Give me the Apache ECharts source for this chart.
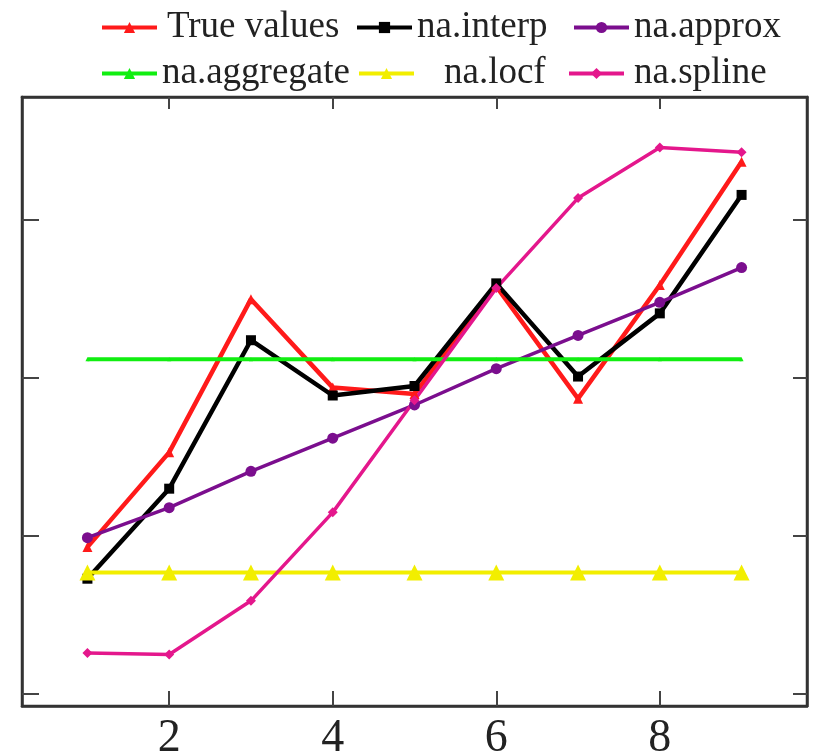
<!DOCTYPE html>
<html>
<head>
<meta charset="utf-8">
<script src="https://cdn.jsdelivr.net/npm/echarts@6/dist/echarts.min.js"></script>
<style>html,body{margin:0;padding:0;background:#fff;}#c{width:817px;height:755px;}</style>
</head>
<body>
<div id="c"></div>
<script>
const xValues = [1, 2, 3, 4, 5, 6, 7, 8, 9];
const trueValues = [0.93, 1.53, 2.50, 1.94, 1.90, 2.58, 1.87, 2.59, 3.37];
const naInterp   = [0.73, 1.30, 2.24, 1.89, 1.95, 2.60, 2.01, 2.41, 3.16];
const naApprox   = [0.99, 1.18, 1.41, 1.62, 1.83, 2.06, 2.27, 2.48, 2.70];
const naAggregate= [2.12, 2.12, 2.12, 2.12, 2.12, 2.12, 2.12, 2.12, 2.12];
const naLocf     = [0.77, 0.77, 0.77, 0.77, 0.77, 0.77, 0.77, 0.77, 0.77];
const naSpline   = [0.26, 0.25, 0.59, 1.15, 1.86, 2.57, 3.14, 3.46, 3.43];
const xTicks = [2, 4, 6, 8];
const yTicks = [0, 1, 2, 3];

const FONT = 'Liberation Serif';
const pairs = arr => xValues.map((x, i) => [x, arr[i]]);

const seriesDefs = [
  {name: 'True values', data: trueValues, color: '#ff1a1a', symbol: 'triangle', size: 10, width: 4.5},
  {name: 'na.interp', data: naInterp, color: '#000000', symbol: 'rect', size: 10, width: 4.5},
  {name: 'na.approx', data: naApprox, color: '#7b0e8e', symbol: 'circle', size: 11, width: 3.5},
  {name: 'na.aggregate', data: naAggregate, color: '#11ee11', symbol: 'triangle', size: 4, width: 4},
  {name: 'na.locf', data: naLocf, color: '#f2ee00', symbol: 'triangle', size: 16, width: 4},
  {name: 'na.spline', data: naSpline, color: '#e4178c', symbol: 'diamond', size: 10, width: 3.5}
];

const legendPos = [
  {name: 'True values', left: 95, top: 4, pad: 5},
  {name: 'na.interp', left: 350, top: 4, pad: 0},
  {name: 'na.approx', left: 567, top: 4, pad: 0},
  {name: 'na.aggregate', left: 95, top: 50, pad: 0},
  {name: 'na.locf', left: 352, top: 50, pad: 25},
  {name: 'na.spline', left: 562, top: 50, pad: 5}
];

const chart = echarts.init(document.getElementById('c'), null, {renderer: 'canvas'});
const axisLineStyle = {color: '#333', width: 2.5};
const tickStyle = {color: '#444', width: 2};

chart.setOption({
  animation: false,
  backgroundColor: '#ffffff',
  grid: {left: 22, right: 10, top: 97, bottom: 49, show: true, borderColor: '#333', borderWidth: 2.5,
         containLabel: false, outerBoundsMode: 'none'},
  legend: legendPos.map(l => ({
    data: [l.name], left: l.left, top: l.top, itemWidth: 55, itemHeight: 14,
    selectedMode: false,
    lineStyle: {width: 4},
    textStyle: {fontFamily: FONT, fontSize: 37, color: '#222', padding: [0, 0, 0, l.pad]}
  })),
  xAxis: [
    {type: 'value', min: 0.2, max: 9.8, position: 'bottom',
     axisLine: {show: true, onZero: false, lineStyle: axisLineStyle},
     axisTick: {show: true, inside: true, length: 15, lineStyle: tickStyle, customValues: xTicks},
     axisLabel: {show: true, fontFamily: FONT, fontSize: 46, color: '#222', margin: 10, customValues: xTicks},
     splitLine: {show: false}},
    {type: 'value', min: 0.2, max: 9.8, position: 'top',
     axisLine: {show: true, onZero: false, lineStyle: axisLineStyle},
     axisTick: {show: true, inside: true, length: 12, lineStyle: tickStyle, customValues: xTicks},
     axisLabel: {show: false},
     splitLine: {show: false}}
  ],
  yAxis: [
    {type: 'value', min: -0.076, max: 3.78, position: 'left',
     axisLine: {show: true, onZero: false, lineStyle: axisLineStyle},
     axisTick: {show: true, inside: true, length: 17, lineStyle: tickStyle, customValues: yTicks},
     axisLabel: {show: false},
     splitLine: {show: false}},
    {type: 'value', min: -0.076, max: 3.78, position: 'right',
     axisLine: {show: true, onZero: false, lineStyle: axisLineStyle},
     axisTick: {show: true, inside: true, length: 14, lineStyle: tickStyle, customValues: yTicks},
     axisLabel: {show: false},
     splitLine: {show: false}}
  ],
  series: seriesDefs.map(s => ({
    name: s.name, type: 'line', xAxisIndex: 0, yAxisIndex: 0,
    data: pairs(s.data), symbol: s.symbol, symbolSize: s.size, showSymbol: true,
    itemStyle: {color: s.color}, lineStyle: {color: s.color, width: s.width},
    emphasis: {disabled: true}
  }))
});
</script>
</body>
</html>
